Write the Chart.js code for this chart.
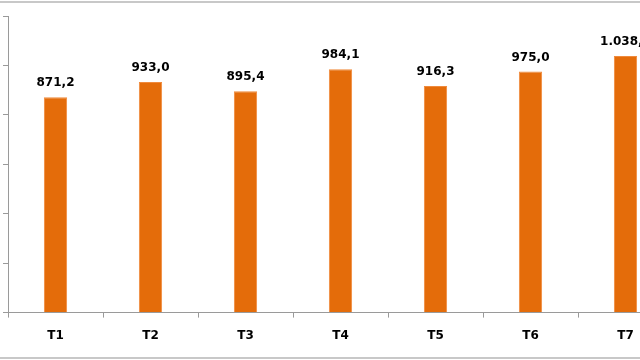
<!DOCTYPE html>
<html>
<head>
<meta charset="utf-8">
<script src="https://cdn.jsdelivr.net/npm/chart.js@4/dist/chart.umd.min.js"></script>
<style>
  html, body { margin: 0; padding: 0; background: #fff; }
  #wrap { position: relative; width: 640px; height: 360px; overflow: hidden; }
  #frame { position: absolute; left: 0; top: 1px; width: 640px; height: 358px;
           border-top: 2px solid #c8c8c8; border-bottom: 2px solid #c8c8c8; box-sizing: border-box; }
  canvas { position: absolute; left: 0; top: 0; }
</style>
</head>
<body>
<div id="wrap">
  <div id="frame"></div>
  <canvas id="chart" width="680" height="360"></canvas>
</div>
<script>
// quarters + values
var labels = ['T1', 'T2', 'T3', 'T4', 'T5', 'T6', 'T7'];
var values = [871.2, 933.0, 895.4, 984.1, 916.3, 975.0, 1038.0];
var yMax = 1200;
var yStep = 200;

// 1038.0 -> "1.038,0"
function fmt(v) {
  var parts = v.toFixed(1).split('.');
  var ip = parts[0].replace(/\B(?=(\d{3})+(?!\d))/g, '.');
  return ip + ',' + parts[1];
}

var labelFont = '"DejaVu Sans", Verdana, sans-serif';

var barLabels = {
  id: 'barLabels',
  afterDatasetsDraw: function(chart) {
    var ctx = chart.ctx;
    var meta = chart.getDatasetMeta(0);
    ctx.save();
    ctx.fillStyle = '#000';
    ctx.font = 'bold 12px ' + labelFont;
    ctx.textAlign = 'center';
    ctx.textBaseline = 'bottom';
    meta.data.forEach(function(bar, i) {
      ctx.fillText(fmt(values[i]), bar.x, bar.y - 8);
    });
    ctx.restore();
  }
};

const ctx = document.getElementById('chart');

var barChart = new Chart(ctx, {
  type: 'bar',
  data: {
    labels: labels,
    datasets: [{
      data: values,
      backgroundColor: '#E46C0A',
      borderColor: '#F08A3C',
      borderWidth: 1,
      barPercentage: 0.245,
      categoryPercentage: 1
    }]
  },
  options: {
    responsive: false,
    animation: false,
    layout: { padding: { left: 3, top: 16, right: 7, bottom: 6 } },
    plugins: { legend: { display: false }, tooltip: { enabled: false } },
    scales: {
      x: {
        grid: { drawOnChartArea: false, drawTicks: true, tickLength: 5, color: '#9a9a9a', offset: true },
        border: { color: '#9a9a9a' },
        ticks: {
          color: '#000',
          padding: 11,
          font: { family: labelFont, size: 12, weight: 'bold' }
        }
      },
      y: {
        min: 0,
        max: yMax,
        ticks: { stepSize: yStep, display: false },
        grid: { drawOnChartArea: false, drawTicks: true, tickLength: 5, color: '#9a9a9a' },
        border: { color: '#9a9a9a' }
      }
    }
  },
  plugins: [barLabels]
});
</script>
</body>
</html>
